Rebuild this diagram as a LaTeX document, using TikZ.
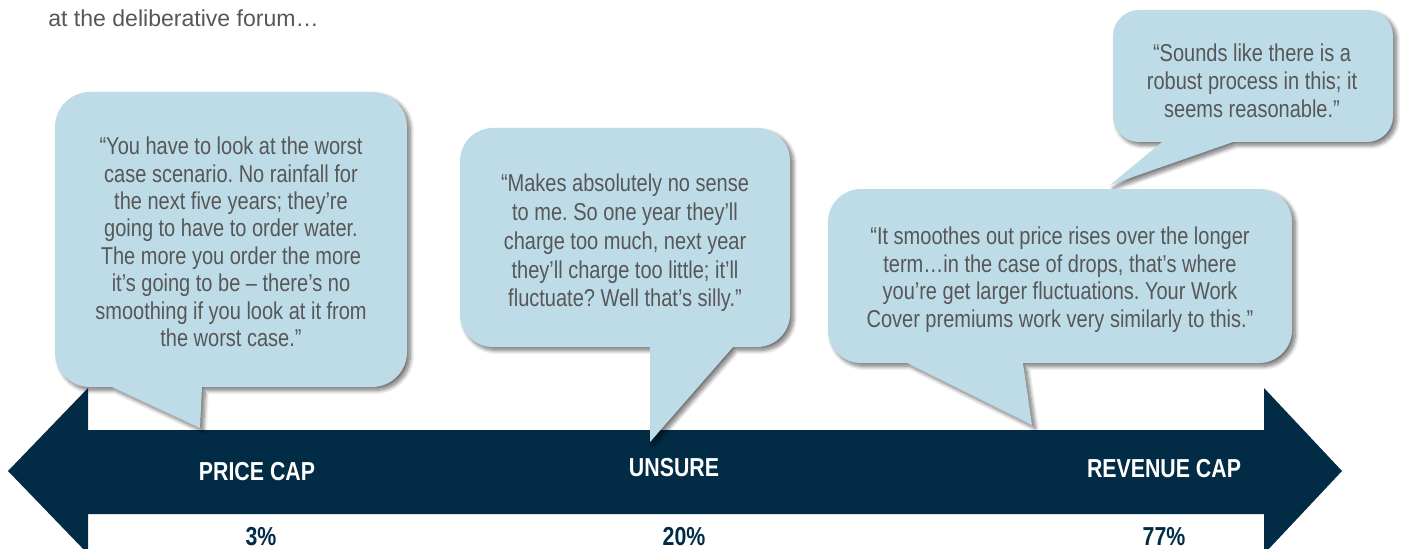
\documentclass[tikz,border=0pt]{standalone}
\usepackage{fontspec}
\setmainfont{Liberation Sans}
\newfontfamily\narrowfont[FakeStretch=0.82]{Liberation Sans}
\usetikzlibrary{shadows.blur}
\frenchspacing
\definecolor{navy}{HTML}{022B45}
\definecolor{bubblefill}{HTML}{BEDCE8}
\definecolor{quotegray}{HTML}{575757}
\tikzset{
  bubble/.style={fill=bubblefill, blur shadow={shadow xshift=2.5pt, shadow yshift=-2.5pt, shadow blur radius=3pt, shadow opacity=55, shadow blur steps=10}},
  quotetext/.style={text=quotegray, align=center, inner sep=0pt, font=\narrowfont\fontsize{18.3}{20.6}\selectfont},
  captext/.style={text=white, inner sep=0pt, anchor=base, font=\narrowfont\bfseries\fontsize{19.5}{22}\selectfont},
  pcttext/.style={text=navy, inner sep=0pt, anchor=base, font=\narrowfont\bfseries\fontsize{19.5}{22}\selectfont},
  titletext/.style={text=quotegray, inner sep=0pt, anchor=base west, font=\fontsize{17.3}{20}\selectfont},
}
% #1=x1 #2=y1(top) #3=x2 #4=y2(bottom) #5=r #6=a #7=b #8=tipx #9=tipy
\newcommand{\speechbubble}[9]{%
  \path[bubble] (#6,#4) -- (#8,#9) -- (#7,#4) -- ({#3-#5},#4)
    arc[start angle=90,end angle=0,radius=#5] -- (#3,{#2+#5})
    arc[start angle=0,end angle=-90,radius=#5] -- ({#1+#5},#2)
    arc[start angle=270,end angle=180,radius=#5] -- (#1,{#4-#5})
    arc[start angle=180,end angle=90,radius=#5] -- cycle;}
\begin{document}
\begin{tikzpicture}[x=0.75pt,y=-0.75pt]
\useasboundingbox (0,0) rectangle (1402,549);
\clip (0,0) rectangle (1402,549);

\node[titletext] (title) at (48,27) {at the deliberative forum…};

% double arrow
\fill[navy] (8,471) -- (88,388) -- (88,430) -- (1264,430) -- (1264,388) -- (1342,471)
  -- (1264,554) -- (1264,514) -- (88,514) -- (88,554) -- cycle;

\node[captext] (pricecap) at (257,480) {PRICE CAP};
\node[captext] (unsure) at (674,476) {UNSURE};
\node[captext] (revcap) at (1164,477) {REVENUE CAP};
\node[pcttext] (p3) at (261,545) {3\%};
\node[pcttext] (p20) at (684,545) {20\%};
\node[pcttext] (p77) at (1164,545) {77\%};

% bubbles
\speechbubble{1113}{10}{1393}{142}{26}{1162}{1233}{1110}{185}
\speechbubble{828}{189}{1292}{363}{33}{907}{1023}{1032}{425}
\speechbubble{460}{128}{790}{347}{33}{650}{733}{650}{442}
\speechbubble{55}{92}{407}{387}{35}{112}{202}{200}{428}

\node[quotetext] (q1) at (231,242) {“You have to look at the worst\\case scenario. No rainfall for\\the next five years; they’re\\going to have to order water.\\The more you order the more\\it’s going to be – there’s no\\smoothing if you look at it from\\the worst case.”};
\node[quotetext, font=\narrowfont\fontsize{18.3}{21.6}\selectfont] (q2) at (625,243) {“Makes absolutely no sense\\to me. So one year they’ll\\charge too much, next year\\they’ll charge too little; it’ll\\fluctuate? Well that’s silly.”};
\node[quotetext] (q3) at (1060,279.5) {“It smoothes out price rises over the longer\\term…in the case of drops, that’s where\\you’re get larger fluctuations. Your Work\\Cover premiums work very similarly to this.”};
\node[quotetext, font=\narrowfont\fontsize{18.3}{21.2}\selectfont] (q4) at (1252,81) {“Sounds like there is a\\robust process in this; it\\seems reasonable.”};
\end{tikzpicture}
\end{document}
